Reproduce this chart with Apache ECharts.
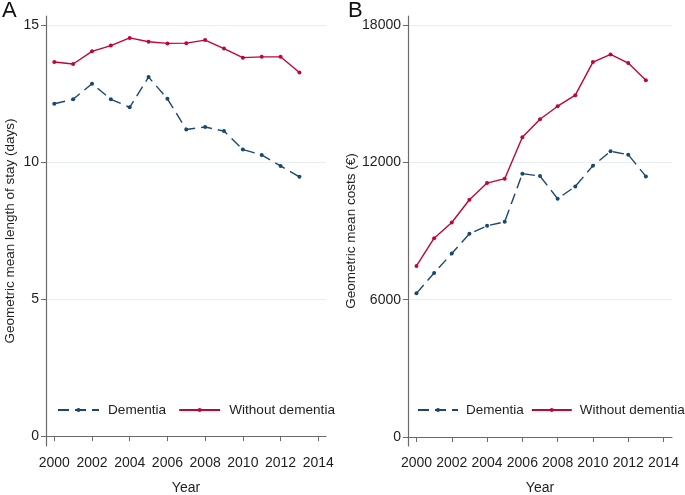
<!DOCTYPE html>
<html>
<head>
<meta charset="utf-8">
<script src="https://cdn.jsdelivr.net/npm/echarts@6/dist/echarts.min.js"></script>
<style>
html,body{margin:0;padding:0;background:#fff;}
#main{width:685px;height:495px;}
</style>
</head>
<body>
<div id="main"></div>
<script>
const years = [2000,2001,2002,2003,2004,2005,2006,2007,2008,2009,2010,2011,2012,2013];
const xTicks = [2000,2002,2004,2006,2008,2010,2012,2014];
const losTicks = [0,5,10,15];
const costTicks = [0,6000,12000,18000];
const losDementia = [12.13,12.29,12.86,12.29,12.0,13.10,12.31,11.19,11.28,11.13,10.46,10.26,9.86,9.46];
const losWithout = [13.65,13.58,14.04,14.25,14.53,14.39,14.33,14.34,14.45,14.14,13.81,13.84,13.84,13.27];
const costDementia = [6275,7167,8014,8875,9225,9401,11503,11400,10408,10948,11854,12481,12335,11386];
const costWithout = [7475,8684,9371,10366,11093,11285,13094,13883,14452,14934,16379,16715,16336,15591];
const seriesNames = ['Dementia','Without dementia'];

const NAVY = '#1a476f';
const RED = '#c10534';
const FONT = 'Liberation Sans, Arial, sans-serif';
const AXIS = '#6a6a6a';
const TXT = '#1e1e1e';

function pairs(vals){ return years.map((y,i)=>[y, vals[i]]); }
const plain = v => String(v);

function xAxisCfg(idx, min, max){
  return {
    type:'value', gridIndex:idx, min:min, max:max,
    name:'Year', nameLocation:'middle', nameGap:35,
    nameTextStyle:{fontFamily:FONT,fontSize:14,color:TXT},
    axisLine:{show:true,lineStyle:{color:AXIS,width:1.2}},
    axisTick:{show:true,length:5,customValues:xTicks,lineStyle:{color:AXIS}},
    axisLabel:{customValues:xTicks,formatter:plain,fontFamily:FONT,fontSize:14,color:TXT,margin:10},
    splitLine:{show:false}
  };
}
function yAxisCfg(idx, min, max, ticks, name, gap){
  return {
    type:'value', gridIndex:idx, min:min, max:max,
    name:name, nameLocation:'middle', nameGap:gap, nameRotate:90,
    nameTextStyle:{fontFamily:FONT,fontSize:13.5,color:TXT},
    axisLine:{show:true,lineStyle:{color:AXIS,width:1.2}},
    axisTick:{show:true,length:5,customValues:ticks,lineStyle:{color:AXIS}},
    axisLabel:{customValues:ticks,formatter:plain,fontFamily:FONT,fontSize:14,color:TXT,margin:7},
    splitLine:{show:true,lineStyle:{color:'#e9eef0',width:1}}
  };
}
function lineSeries(name, data, xi, yi, color, dashed){
  return {
    type:'line', name:name, xAxisIndex:xi, yAxisIndex:yi, data:data,
    symbol:'circle', symbolSize:4, showSymbol:true,
    itemStyle:{color:color},
    lineStyle:{color:color,width:1.4,type:dashed?[11,6]:'solid'},
    emphasis:{disabled:true}, animation:false
  };
}

const chart = echarts.init(document.getElementById('main'), null, {renderer:'canvas'});
chart.setOption({
  backgroundColor:'#fff',
  animation:false,
  grid:[
    {left:46, right:359, top:16, bottom:49, containLabel:false, outerBoundsMode:'none'},
    {left:408, right:13, top:16, bottom:49, containLabel:false, outerBoundsMode:'none'}
  ],
  xAxis:[ xAxisCfg(0, 1999.56, 2014.41), xAxisCfg(1, 1999.52, 2014.48) ],
  yAxis:[
    yAxisCfg(0, -0.36, 15.33, losTicks, 'Geometric mean length of stay (days)', 29),
    yAxisCfg(1, -394, 18393, costTicks, 'Geometric mean costs (€)', 48)
  ],
  legend:[
    {data:seriesNames, left:57, top:403, width:330, padding:0, itemWidth:41, itemHeight:5, itemGap:12, selectedMode:false,
     textStyle:{fontFamily:FONT,fontSize:13.6,color:TXT,padding:[0,0,0,4]}},
    {data:seriesNames, left:417, top:403, width:300, padding:0, itemWidth:40, itemHeight:5, itemGap:7, selectedMode:false,
     textStyle:{fontFamily:FONT,fontSize:13.5,color:TXT,padding:[0,0,0,3]}}
  ],
  graphic:[
    {type:'text', left:2, top:0, style:{text:'A', font:'22px Liberation Sans, Arial, sans-serif', fill:'#111'}},
    {type:'text', left:348, top:0, style:{text:'B', font:'22px Liberation Sans, Arial, sans-serif', fill:'#111'}}
  ],
  series:[
    lineSeries(seriesNames[0], pairs(losDementia), 0, 0, NAVY, true),
    lineSeries(seriesNames[1], pairs(losWithout), 0, 0, RED, false),
    lineSeries(seriesNames[0], pairs(costDementia), 1, 1, NAVY, true),
    lineSeries(seriesNames[1], pairs(costWithout), 1, 1, RED, false)
  ]
});
</script>
</body>
</html>
